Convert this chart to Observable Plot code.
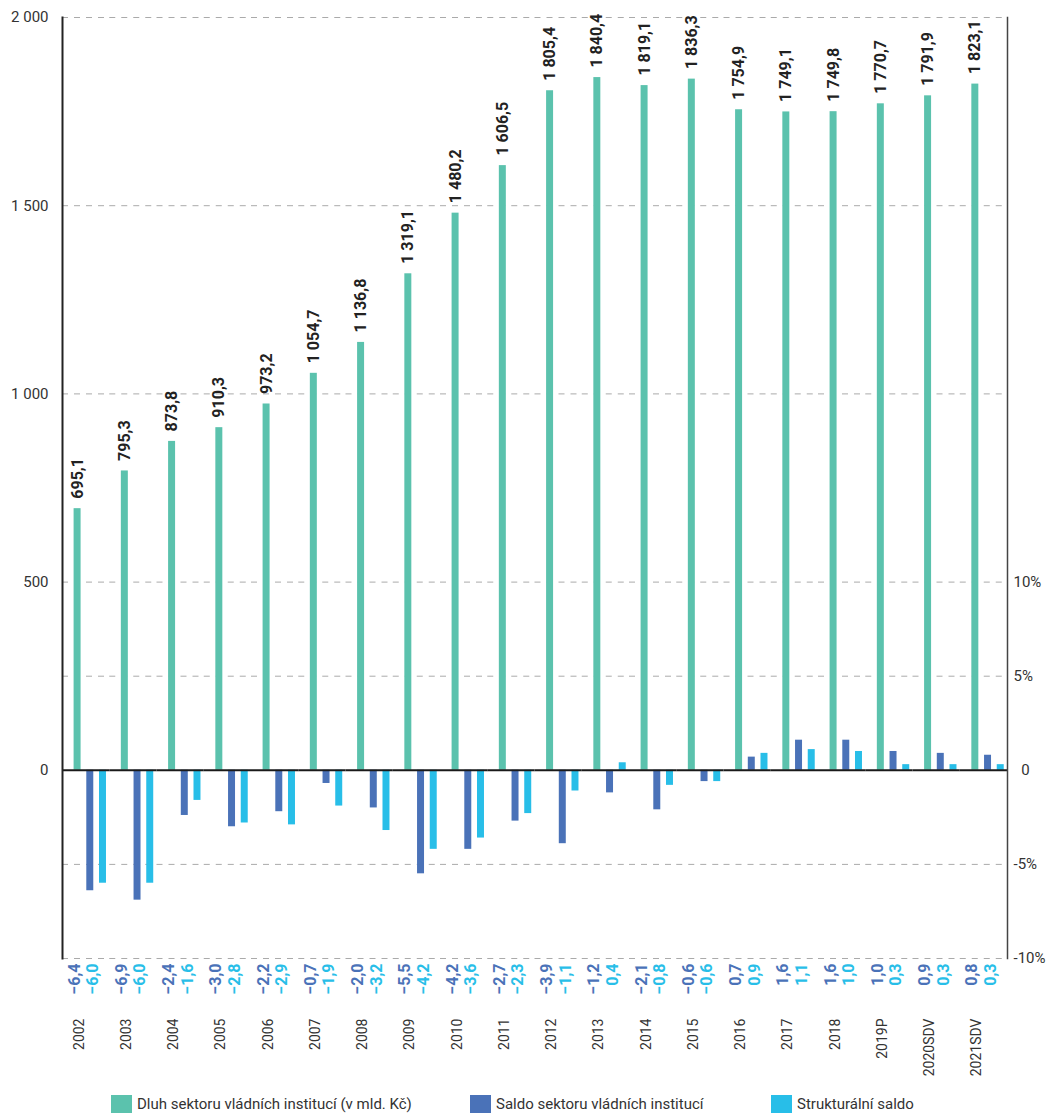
<!DOCTYPE html>
<html><head><meta charset="utf-8">
<script src="https://cdn.jsdelivr.net/npm/d3@7"></script>
<script src="https://cdn.jsdelivr.net/npm/@observablehq/plot@0.6"></script>
<style>
body{margin:0;background:#fff;font-family:Roboto,sans-serif;}
#chart{position:relative;width:1046px;}
#chart svg{display:block;}
.legend{position:relative;height:23px;width:1046px;font-size:15px;color:#333;overflow:hidden;}
.item{position:absolute;top:5px;display:flex;align-items:flex-start;gap:5px;line-height:18px;white-space:nowrap;}
.sw{width:21px;height:21px;display:inline-block;}
</style></head><body>
<div id="chart"></div>
<script>
const years = ["2002","2003","2004","2005","2006","2007","2008","2009","2010","2011","2012","2013","2014","2015","2016","2017","2018","2019P","2020SDV","2021SDV"];
const debt = [695.1,795.3,873.8,910.3,973.2,1054.7,1136.8,1319.1,1480.2,1606.5,1805.4,1840.4,1819.1,1836.3,1754.9,1749.1,1749.8,1770.7,1791.9,1823.1];
const saldo = [-6.4,-6.9,-2.4,-3.0,-2.2,-0.7,-2.0,-5.5,-4.2,-2.7,-3.9,-1.2,-2.1,-0.6,0.7,1.6,1.6,1.0,0.9,0.8];
const struct = [-6.0,-6.0,-1.6,-2.8,-2.9,-1.9,-3.2,-4.2,-3.6,-2.3,-1.1,0.4,-0.8,-0.6,0.9,1.1,1.0,0.3,0.3,0.3];
const seriesKeys = ["debt","saldo","struct"];
const seriesNames = ["Dluh sektoru vládních institucí (v mld. Kč)","Saldo sektoru vládních institucí","Strukturální saldo"];
const seriesColors = ["#5bc2ad","#4a72b8","#28bee8"];
const leftTicks = [0,500,1000,1500,2000];
const rightTicks = [-10,-5,0,5,10];
const gridLeft = [500,1000,1500,2000];
const gridRight = [-10,-5,5];
const PCT = 50; // 1 % on the right axis corresponds to 50 on the left axis

const locale = d3.formatLocale({decimal:",", thousands:" ", grouping:[3], minus:"\u2212"});
const fmt1 = locale.format(",.1f");
const fmtInt = locale.format(",");

const table = years.map((year,i)=>({year, debt:debt[i], saldo:saldo[i], struct:struct[i]}));
const long = table.flatMap(d => seriesKeys.map(k => ({year:d.year, series:k, v: k==="debt" ? d.debt : d[k]*PCT})));

const plot = Plot.plot({
  width:1046, height:1090,
  marginLeft:62, marginRight:39, marginTop:17, marginBottom:132,
  style:{fontFamily:"Roboto, sans-serif", fontSize:"15px", color:"#333", background:"#fff"},
  fx:{domain:years, padding:0, round:false, axis:null, label:null},
  x:{domain:seriesKeys, paddingInner:0.45, paddingOuter:0.585, align:0.78, round:false, axis:null},
  y:{domain:[-500,2000], axis:null},
  color:{domain:seriesKeys, range:seriesColors},
  marks:[
    Plot.ruleY([...gridLeft, ...gridRight.map(p=>p*PCT)], {stroke:"#aaa", strokeDasharray:"6,6", strokeWidth:1}),
    Plot.barY(long, {fx:"year", x:"series", y:"v", fill:"series"}),
    Plot.ruleY([0], {stroke:"#1a1a1a", strokeWidth:2}),
    Plot.axisY({anchor:"left", ticks:leftTicks, tickSize:0, tickPadding:14, tickFormat:fmtInt, fontSize:15, fill:"#333"}),
    Plot.axisY({anchor:"right", ticks:rightTicks.map(p=>p*PCT), tickSize:0, tickPadding:6, fontSize:15, fill:"#333",
      tickFormat: v => v===0 ? "\u20020" : (v/PCT)+"%"}),
    Plot.frame({anchor:"left", facetAnchor:"left", stroke:"#222", strokeWidth:2}),
    Plot.frame({anchor:"right", facetAnchor:"right", stroke:"#444", strokeWidth:1.5}),
    Plot.text(table, {fx:"year", x:()=>"debt", y:"debt", text:d=>fmt1(d.debt), rotate:-90, textAnchor:"start",
      dy:-10, fontWeight:"bold", fontSize:16, fill:"#222"}),
    Plot.text(table, {fx:"year", frameAnchor:"bottom", text:d=>fmt1(d.saldo), rotate:-90, textAnchor:"end",
      dx:-6.6, dy:5, fill:seriesColors[1], fontWeight:"bold", fontSize:16}),
    Plot.text(table, {fx:"year", frameAnchor:"bottom", text:d=>fmt1(d.struct), rotate:-90, textAnchor:"end",
      dx:12, dy:5, fill:seriesColors[2], fontWeight:"bold", fontSize:16}),
    Plot.text(table, {fx:"year", frameAnchor:"bottom", text:"year", rotate:-90, textAnchor:"end",
      dx:-2.6, dy:60, fill:"#333", fontSize:14})
  ]
});
document.getElementById("chart").appendChild(plot);

const legend = document.createElement("div");
legend.className = "legend";
const legendLeft = [111, 470, 771];
seriesKeys.forEach((k,i)=>{
  const it = document.createElement("div");
  it.className = "item";
  it.style.left = legendLeft[i] + "px";
  const sw = document.createElement("span");
  sw.className = "sw"; sw.style.background = seriesColors[i];
  const tx = document.createElement("span");
  tx.textContent = seriesNames[i];
  it.appendChild(sw); it.appendChild(tx);
  legend.appendChild(it);
});
document.getElementById("chart").appendChild(legend);
</script>
</body></html>
